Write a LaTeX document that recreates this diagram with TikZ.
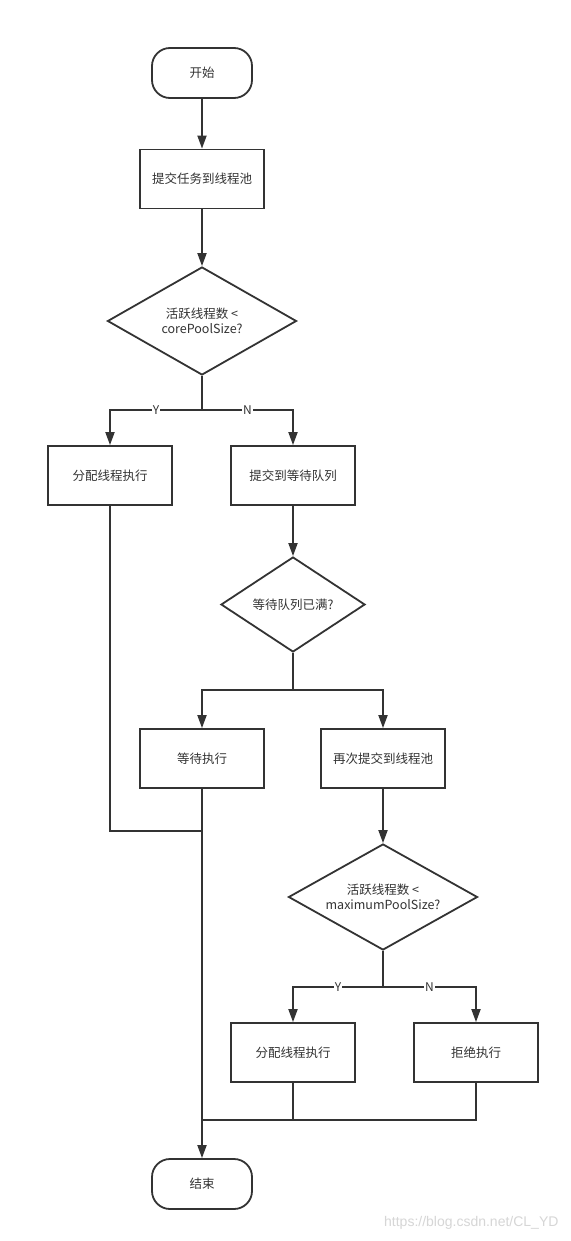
\documentclass[tikz,border=0pt]{standalone}
\usepackage{fontspec}
\setmainfont{Noto Sans CJK SC}
\newfontfamily\wmfont{Liberation Sans}
\usetikzlibrary{arrows.meta,shapes.geometric}
\definecolor{ink}{HTML}{333333}
\definecolor{wm}{HTML}{D6D6D6}
\begin{document}
\begin{tikzpicture}[x=1pt,y=-1pt,
  every node/.style={font=\fontsize{12.5}{15}\selectfont, text=ink},
  line/.style={draw=ink, line width=1.8pt},
  arr/.style={line, -{Triangle[length=13pt,width=9pt]}},
  term/.style={line, rounded corners=18pt, minimum width=100pt, minimum height=50pt, inner sep=0pt},
  procbox/.style={line, minimum width=124pt, minimum height=59pt, inner sep=0pt},
  decision/.style={line, diamond, inner sep=0pt, align=center, aspect=1.78},
  lbl/.style={fill=white, inner sep=1pt, font=\fontsize{12}{14}\selectfont}
]
\useasboundingbox[fill=white] (0,0) rectangle (570,1241);

\node[term] (start) at (202,73) {开始};
\node[procbox] (b1) at (202,179) {提交任务到线程池};
\node[decision, minimum width=189pt, minimum height=108pt] (d1) at (202,321) {活跃线程数 <\\corePoolSize?};
\node[procbox] (b2) at (110,475.5) {分配线程执行};
\node[procbox] (b3) at (293,475.5) {提交到等待队列};
\node[decision, minimum width=144pt, minimum height=95pt, aspect=1.5] (d2) at (293,604.5) {等待队列已满?};
\node[procbox] (b4) at (202,758.5) {等待执行};
\node[procbox] (b5) at (383,758.5) {再次提交到线程池};
\node[decision, minimum width=189pt, minimum height=106pt] (d3) at (383,897) {活跃线程数 <\\maximumPoolSize?};
\node[procbox] (b6) at (293,1052.5) {分配线程执行};
\node[procbox] (b7) at (476,1052.5) {拒绝执行};
\node[term] (end) at (202,1184) {结束};

\coordinate (j1) at (202,410);
\coordinate (j2) at (293,690);
\coordinate (j3) at (383,987);
\coordinate (j4) at (202,831);
\coordinate (j5) at (202,1120);

\draw[arr] (start) -- (b1);
\draw[arr] (b1) -- (d1);
\draw[line] (d1.south) -- (j1);
\draw[arr] (j1) -| node[lbl, pos=0.25] {Y} (b2);
\draw[arr] (j1) -| node[lbl, pos=0.25] {N} (b3);
\draw[arr] (b3) -- (d2);
\draw[line] (d2.south) -- (j2);
\draw[arr] (j2) -| (b4);
\draw[arr] (j2) -| (b5);
\draw[arr] (b5) -- (d3);
\draw[line] (d3.south) -- (j3);
\draw[arr] (j3) -| node[lbl, pos=0.25] {Y} (b6);
\draw[arr] (j3) -| node[lbl, pos=0.25] {N} (b7);
\draw[line] (b2.south) |- (j4);
\draw[arr] (b4) -- (end);
\draw[line] (b7.south) |- (j5);
\draw[line] (b6.south) -- (b6.south |- j5);

\node[text=wm, font=\wmfont\fontsize{14}{16}\selectfont, anchor=east] (wmk) at (562,1223) {https://blog.csdn.net/CL\_YD};
\end{tikzpicture}
\end{document}
